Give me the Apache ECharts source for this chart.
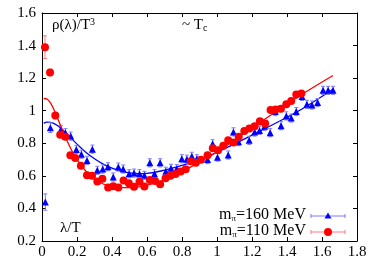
<!DOCTYPE html>
<html><head><meta charset="utf-8">
<script src="https://cdn.jsdelivr.net/npm/echarts@6/dist/echarts.min.js"></script>
<style>html,body{margin:0;padding:0;background:#fff}#c{width:374px;height:262px}</style>
</head><body><div id="c"></div>
<script>
// m_pi = 110 MeV (red circles)
const redX = [0.017,0.046,0.076,0.104,0.133,0.162,0.19,0.222,0.257,0.286,0.316,0.345,0.378,0.407,0.436,0.466,0.496,0.526,0.557,0.585,0.616,0.646,0.675,0.706,0.734,0.763,0.792,0.821,0.85,0.879,0.908,0.946,0.976,1.006,1.036,1.064,1.094,1.124,1.156,1.185,1.215,1.245,1.275,1.306,1.335,1.365,1.396,1.424,1.453,1.482];
const redY = [1.39,1.235,0.97,0.853,0.84,0.726,0.71,0.662,0.603,0.601,0.565,0.583,0.529,0.536,0.529,0.572,0.555,0.533,0.564,0.535,0.575,0.569,0.549,0.586,0.601,0.612,0.626,0.64,0.69,0.68,0.699,0.726,0.769,0.758,0.785,0.818,0.805,0.84,0.876,0.891,0.904,0.935,0.922,1.005,1.008,1.012,1.04,1.06,1.1,1.106];
const redErr = [0.07,0.02,0.02,0.015,0.015,0.015,0.015,0.015,0.015,0.015,0.015,0.015,0.015,0.015,0.015,0.015,0.015,0.015,0.015,0.015,0.015,0.015,0.015,0.015,0.015,0.015,0.015,0.015,0.015,0.015,0.015,0.015,0.015,0.015,0.015,0.015,0.015,0.015,0.015,0.015,0.015,0.015,0.015,0.015,0.015,0.015,0.015,0.015,0.015,0.015];
// m_pi = 160 MeV (blue triangles)
const blueX = [0.019,0.048,0.107,0.134,0.164,0.196,0.225,0.257,0.288,0.316,0.347,0.377,0.407,0.436,0.464,0.498,0.526,0.557,0.585,0.616,0.643,0.675,0.708,0.737,0.77,0.799,0.828,0.856,0.885,0.946,0.975,1.003,1.064,1.094,1.123,1.184,1.215,1.243,1.272,1.304,1.333,1.366,1.396,1.424,1.453,1.486,1.514,1.543,1.575,1.606,1.635,1.663];
const blueY = [0.439,0.896,0.883,0.865,0.844,0.762,0.733,0.695,0.764,0.634,0.642,0.656,0.593,0.654,0.642,0.613,0.617,0.613,0.603,0.68,0.613,0.68,0.628,0.646,0.644,0.705,0.702,0.72,0.705,0.7,0.797,0.715,0.728,0.87,0.81,0.818,0.869,0.879,0.904,0.865,0.995,0.908,0.968,0.955,0.995,1.088,1.039,1.035,1.05,1.125,1.125,1.125];
const blueErr = [0.05,0.03,0.025,0.025,0.025,0.025,0.025,0.025,0.025,0.025,0.025,0.025,0.025,0.025,0.025,0.025,0.025,0.025,0.025,0.025,0.025,0.025,0.025,0.025,0.025,0.025,0.025,0.025,0.025,0.025,0.025,0.025,0.025,0.025,0.025,0.025,0.025,0.025,0.025,0.025,0.025,0.025,0.025,0.025,0.025,0.025,0.025,0.025,0.025,0.025,0.025,0.025];
// fit curves
const redFitX = [0.01,0.03,0.05,0.075,0.1,0.125,0.15,0.175,0.2,0.25,0.3,0.35,0.4,0.45,0.5,0.55,0.6,0.7,0.8,0.9,1.0,1.2,1.4,1.5,1.663];
const redFitY = [1.075,1.07,1.045,0.99,0.925,0.86,0.80,0.745,0.70,0.63,0.58,0.55,0.535,0.528,0.528,0.532,0.542,0.575,0.625,0.685,0.746,0.895,1.04,1.11,1.216];
const blueFitX = [0.01,0.03,0.05,0.075,0.1,0.15,0.2,0.25,0.3,0.35,0.4,0.45,0.5,0.55,0.6,0.7,0.8,0.9,1.0,1.2,1.4,1.5,1.667];
const blueFitY = [0.922,0.93,0.928,0.918,0.90,0.85,0.795,0.745,0.705,0.672,0.648,0.63,0.618,0.613,0.615,0.635,0.665,0.70,0.745,0.85,0.96,1.02,1.135];
const xTicks = ['0','0.2','0.4','0.6','0.8','1','1.2','1.4','1.6','1.8'];

const RED = '#ff0000', BLUE = '#0000ff';
const font = 'Liberation Serif';
const zip = (a,b,c) => a.map((v,i)=> c ? [v,b[i],c[i]] : [v,b[i]]);

function errRender(color){
  return function(params, api){
    const x = api.value(0), y = api.value(1), e = api.value(2);
    const p1 = api.coord([x, y+e]), p2 = api.coord([x, y-e]);
    const w = 2;
    return {type:'group', children:[
      {type:'line', shape:{x1:p1[0],y1:p1[1],x2:p2[0],y2:p2[1]}, style:{stroke:color,lineWidth:1}},
      {type:'line', shape:{x1:p1[0]-w,y1:p1[1],x2:p1[0]+w,y2:p1[1]}, style:{stroke:color,lineWidth:1}},
      {type:'line', shape:{x1:p2[0]-w,y1:p2[1],x2:p2[0]+w,y2:p2[1]}, style:{stroke:color,lineWidth:1}}
    ]};
  };
}

const chart = echarts.init(document.getElementById('c'), null, {renderer:'canvas'});
const axisCommon = {
  min:0, max:1.8, interval:0.2,
  axisLine:{show:true, onZero:false, lineStyle:{color:'#000', width:1}},
  axisTick:{show:true, inside:true, length:4, lineStyle:{color:'#000'}},
  splitLine:{show:false}
};
chart.setOption({
  animation:false,
  grid:{left:42, right:17, top:13, bottom:21, containLabel:false},
  xAxis:[
    Object.assign({}, axisCommon, {type:'value', position:'bottom',
      axisLabel:{color:'#000', fontFamily:font, fontSize:15, margin:4,
        formatter:(v)=>xTicks[Math.round(v/0.2)]}}),
    Object.assign({}, axisCommon, {type:'value', position:'top', axisLabel:{show:false}})
  ],
  yAxis:[
    {type:'value', min:0.2, max:1.6, interval:0.2, position:'left',
      axisLine:{show:true, onZero:false, lineStyle:{color:'#000'}},
      axisTick:{show:true, inside:true, length:4, lineStyle:{color:'#000'}},
      splitLine:{show:false},
      axisLabel:{color:'#000', fontFamily:font, fontSize:15, margin:6}},
    {type:'value', min:0.2, max:1.6, interval:0.2, position:'right',
      axisLine:{show:true, onZero:false, lineStyle:{color:'#000'}},
      axisTick:{show:true, inside:true, length:4, lineStyle:{color:'#000'}},
      splitLine:{show:false}, axisLabel:{show:false}}
  ],
  series:[
    {type:'line', data:zip(blueFitX, blueFitY), smooth:0.4, showSymbol:false, symbol:'none',
      lineStyle:{color:BLUE, width:1.3}, z:1},
    {type:'custom', data:zip(blueX, blueY, blueErr), renderItem:errRender('#7a7aff'), z:2},
    {type:'scatter', data:zip(blueX, blueY), symbol:'triangle', symbolSize:7,
      itemStyle:{color:BLUE, opacity:1}, z:3},
    {type:'line', data:zip(redFitX, redFitY), smooth:0.4, showSymbol:false, symbol:'none',
      lineStyle:{color:RED, width:1.3}, z:4},
    {type:'custom', data:zip(redX, redY, redErr), renderItem:errRender('#ff7a7a'), z:5},
    {type:'scatter', data:zip(redX, redY), symbol:'circle', symbolSize:8,
      itemStyle:{color:RED, opacity:1}, z:6}
  ],
  graphic:[
    {type:'text', left:52, top:17, style:{text:'{a|ρ(λ)/T}{s|3}', rich:{
      a:{fontFamily:font, fontSize:15, fill:'#000'}, s:{fontFamily:font, fontSize:10, fill:'#000', verticalAlign:'top', padding:[0,0,6,0]}}}},
    {type:'text', left:182, top:18, style:{text:'{a|~ T}{s|c}', rich:{
      a:{fontFamily:font, fontSize:15, fill:'#000'}, s:{fontFamily:font, fontSize:10, fill:'#000', padding:[6,0,0,0]}}}},
    {type:'text', left:60, top:221, style:{text:'λ/T', fontFamily:font, fontSize:15, fill:'#000'}},
    {type:'text', right:68, top:207, style:{text:'{a|m}{s|π}{a|=160 MeV}', align:'right', rich:{
      a:{fontFamily:font, fontSize:16, fill:'#000'}, s:{fontFamily:font, fontSize:9, fill:'#000', padding:[8,0,0,0]}}}},
    {type:'text', right:68, top:223, style:{text:'{a|m}{s|π}{a|=110 MeV}', align:'right', rich:{
      a:{fontFamily:font, fontSize:16, fill:'#000'}, s:{fontFamily:font, fontSize:9, fill:'#000', padding:[8,0,0,0]}}}},
    {type:'group', children:[
      {type:'line', shape:{x1:311,y1:216,x2:345,y2:216}, style:{stroke:'#7a7aff',lineWidth:1}},
      {type:'line', shape:{x1:311,y1:214,x2:311,y2:218}, style:{stroke:'#7a7aff',lineWidth:1}},
      {type:'line', shape:{x1:345,y1:214,x2:345,y2:218}, style:{stroke:'#7a7aff',lineWidth:1}},
      {type:'polygon', shape:{points:[[328,212.5],[331.5,218.5],[324.5,218.5]]}, style:{fill:BLUE}},
      {type:'line', shape:{x1:311,y1:232,x2:345,y2:232}, style:{stroke:'#ff7a7a',lineWidth:1}},
      {type:'line', shape:{x1:311,y1:230,x2:311,y2:234}, style:{stroke:'#ff7a7a',lineWidth:1}},
      {type:'line', shape:{x1:345,y1:230,x2:345,y2:234}, style:{stroke:'#ff7a7a',lineWidth:1}},
      {type:'circle', shape:{cx:328,cy:232,r:4}, style:{fill:RED}}
    ]}
  ]
});
</script></body></html>
